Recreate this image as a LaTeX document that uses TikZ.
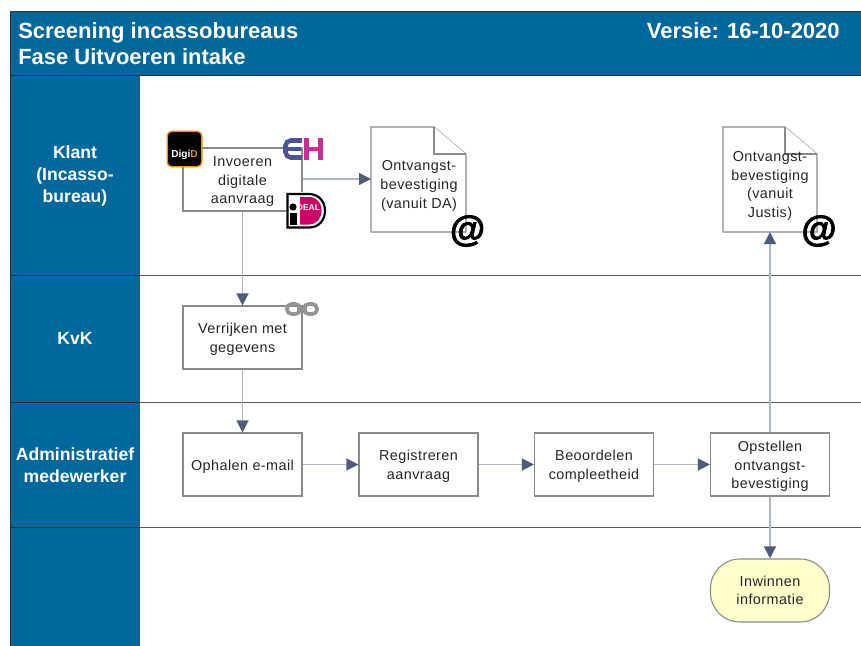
\documentclass[tikz,border=0pt]{standalone}
\usepackage{fontspec}
\setmainfont{Liberation Sans}
\newfontfamily\atfont[FakeBold=2.2]{Liberation Sans}
\usetikzlibrary{arrows.meta,calc}
\definecolor{lane}{HTML}{00689B}
\definecolor{edgeline}{HTML}{8A8A8A}
\definecolor{conn}{HTML}{AEB6C6}
\definecolor{tip}{HTML}{4F5D78}
\definecolor{term}{HTML}{FFFFCC}
\definecolor{ehblue}{HTML}{4A5596}
\definecolor{ehpink}{HTML}{CC2E90}
\definecolor{idealpink}{HTML}{CC0066}
\definecolor{digiorange}{HTML}{F28C00}
\newcommand{\bodyfont}{\fontsize{10.8}{14}\selectfont\addfontfeature{LetterSpace=3}}
\newcommand{\tl}{\rule{0pt}{10.8pt}}
\tikzset{
 x=0.75pt,y=-0.75pt,
 procbox/.style={draw=edgeline,line width=0.8pt,fill=white,minimum width=89.25pt,minimum height=47.25pt,inner sep=0pt,align=center,font=\bodyfont,text=black!85},
 termbox/.style={procbox,fill=term,rounded corners=22pt},
 docnode/.style={inner sep=0pt,align=center,font=\bodyfont,text=black!85},
 docshape/.style={draw=edgeline,line width=0.8pt,fill=white},
 flow/.style={draw=conn,line width=0.9pt,-{Triangle[length=9pt,width=9pt,color=tip,fill=tip]}},
 lanehead/.style={text=white,font=\bfseries\fontsize{13.2}{16.2}\selectfont,align=center,inner sep=0pt},
 titletext/.style={text=white,font=\bfseries\fontsize{16.5}{20}\selectfont,align=left,inner sep=0pt},
 laneline/.style={draw=black!65,line width=0.6pt},
 atsign/.style={inner sep=0pt,font=\atfont\bfseries\fontsize{27}{27}\selectfont,text=black},
}
\begin{document}
\begin{tikzpicture}
\useasboundingbox (0,0) rectangle (861,646);
\fill[white] (0,0) rectangle (861,646);
% header and lane column
\fill[lane] (10,11) rectangle (861,75);
\fill[lane] (10,75) rectangle (139,646);
\foreach \yy in {275,402,527} {\draw[laneline] (139,\yy) -- (861,\yy);\draw[draw=black!85,line width=0.5pt] (10,\yy) -- (139,\yy);}
\draw[draw=black!80,line width=0.5pt] (861,11) -- (10,11) -- (10,646);
\draw[draw=black!85,line width=0.5pt] (10,75) -- (861,75);
\draw[draw=black!70,line width=0.5pt] (139,75) -- (139,646);
\node[titletext,anchor=west] (title) at (18,43.5) {Screening incassobureaus\\Fase Uitvoeren intake};
\node[text=white,font=\bfseries\fontsize{16.5}{20}\selectfont,inner sep=0pt,anchor=east] (versie) at (840,30.5) {Versie: 16-10-2020};
\node[lanehead] (l1) at (75,176) {Klant\\(Incasso-\\bureau)};
\node[lanehead] (l2) at (75,338) {KvK};
\node[lanehead] (l3) at (75,465) {Administratief\\medewerker};
% process boxes
\node[procbox] (a) at (242.5,179.5) {\tl Invoeren\\digitale\\aanvraag};
\node[procbox] (b) at (242.5,337.5) {\tl Verrijken met\\gegevens};
\node[procbox] (c) at (242.5,464.5) {\tl Ophalen e-mail};
\node[procbox] (d) at (418.5,464.5) {\tl Registreren\\aanvraag};
\node[procbox] (e) at (594,464.5) {\tl Beoordelen\\compleetheid};
\node[procbox] (f) at (770,464.5) {\tl Opstellen\\ontvangst-\\bevestiging};
\node[termbox] (g) at (770,590.5) {Inwinnen\\informatie};
% documents
\draw[docshape] (371,127) -- (434,127) -- (466,154) -- (466,232) -- (371,232) -- cycle;
\draw[docshape] (434,127) -- (434,154) -- (466,154);
\node[docnode] (doca) at (419,186) {Ontvangst-\\bevestiging\\(vanuit DA)};
\draw[docshape] (723,127) -- (785,127) -- (817,154) -- (817,232) -- (723,232) -- cycle;
\draw[docshape] (785,127) -- (785,154) -- (817,154);
\node[docnode] (docbt) at (770,186) {Ontvangst-\\bevestiging\\(vanuit\\Justis)};
\coordinate (docbs) at (770,232);
\coordinate (docal) at (371,179);
% connectors
\draw[flow] (a.east |- docal) -- (docal);
\draw[flow] (a) -- (b);
\draw[flow] (b) -- (c);
\draw[flow] (c) -- (d);
\draw[flow] (d) -- (e);
\draw[flow] (e) -- (f);
\draw[flow] (f) -- (g);
\draw[flow] (f.north) -- (docbs);
% at signs
\node[atsign] (at1) at (467.5,231) {@};
\node[atsign] (at2) at (819,231) {@};
% DigiD logo
\node[draw=digiorange,line width=1pt,fill=black,rounded corners=3.5pt,minimum width=26pt,minimum height=26.5pt,inner sep=0pt] (digid) at (184.5,149) {};
\node[inner sep=0pt,text=white,font=\bfseries\fontsize{7.6}{8}\selectfont] (digidt) at (184.5,155) {Digi\textcolor{digiorange}{D}};
% EH logo
\draw[ehblue,line width=3.4pt,rounded corners=4pt] (302,140.5) -- (285.5,140.5) -- (285.5,157.5) -- (302,157.5);
\draw[ehblue,line width=2.6pt] (285.5,149) -- (301,149);
\draw[ehpink,line width=3.4pt] (306.5,138) -- (306.5,160) (320.5,138) -- (320.5,160);
\draw[ehpink,line width=2.6pt] (306.5,149) -- (320.5,149);
% iDEAL logo
\fill[white] (286,192) rectangle (327,229);
\fill[idealpink] (300,197) -- (309,197) .. controls (317,197) and (321.5,203) .. (321.5,210.5) .. controls (321.5,218) and (317,224.5) .. (309,224.5) -- (300,224.5) -- cycle;
\draw[black,line width=1.6pt] (287.5,194) -- (309,194) .. controls (319,194) and (325,202) .. (325,210.5) .. controls (325,220) and (319,227.5) .. (309,227.5) -- (287.5,227.5) -- cycle;
\fill[black] (293,207) circle[radius=3.6];
\fill[black] (289.5,212.5) rectangle (296.5,225);
\node[inner sep=0pt,text=white,font=\bfseries\fontsize{6.4}{6}\selectfont] (ideal) at (308.5,208) {DEAL};
% chain icon
\draw[black!42,line width=2.8pt,rounded corners=3.5pt] (287,304) rectangle (300,314);
\draw[black!42,line width=2.8pt,rounded corners=3.5pt] (304,304) rectangle (317,314);
\draw[black!42,line width=2.6pt] (297,309) -- (307,309);
\end{tikzpicture}
\end{document}
